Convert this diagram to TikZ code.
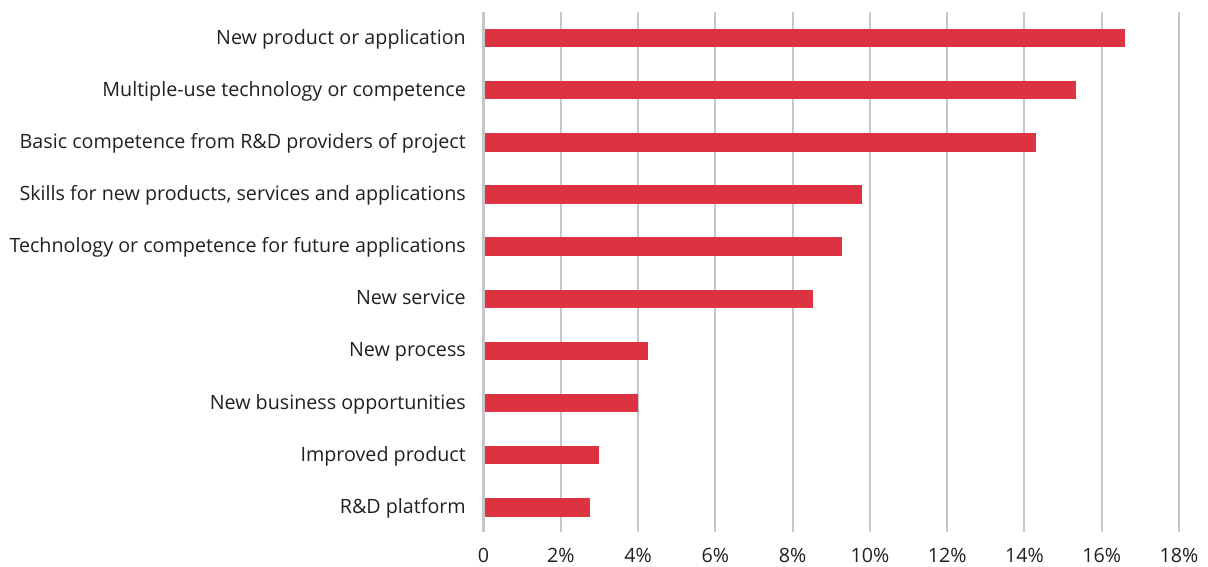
\documentclass[tikz,border=0pt]{standalone}
\usepackage{fontspec}
\setmainfont{Open Sans}
\usetikzlibrary{positioning}

\definecolor{barred}{HTML}{DC3340}
\definecolor{gridgray}{HTML}{C6C6CA}
\definecolor{labelgray}{HTML}{231F20}

\tikzset{
    lbl/.style = {anchor=base east, inner sep=0pt, text=labelgray,
                  font=\fontsize{19.7}{20}\selectfont},
    tick/.style = {anchor=base, inner sep=0pt, text=labelgray,
                   font=\fontsize{19.7}{20}\selectfont},
    bar/.style = {fill=barred},
    gridline/.style = {gridgray, line width=2pt}
}

\begin{document}
\begin{tikzpicture}[x=1pt, y=-1pt]
        \useasboundingbox (0,0) rectangle (1208,566);

        % grid and axis
        \foreach \v in {2,4,...,18}
            \draw[gridline] (483.5+\v*38.64,12) -- (483.5+\v*38.64,532);
        \draw[gridline, line width=3pt] (483.5,12) -- (483.5,532);

        % tick labels
        \node (t0) [tick] at (483.5,562) {0};
        \foreach \v in {2,4,...,18}
            \node (t\v) [tick] at (483.5+\v*38.64,562) {\v\%};

        % bars and labels
        \foreach \i/\val/\txt in {
            0/16.6/New product or application,
            1/15.33/Multiple-use technology or competence,
            2/14.31/Basic competence from R\&D providers of project,
            3/9.8/{Skills for new products, services and applications},
            4/9.29/Technology or competence for future applications,
            5/8.54/New service,
            6/4.25/New process,
            7/4.0/New business opportunities,
            8/3.0/Improved product,
            9/2.75/R\&D platform}
        {
            \fill[bar] (485,38+\i*52.16-9.2) rectangle (483.5+\val*38.64,38+\i*52.16+9.2);
            \node (l\i) [lbl] at (466,38+\i*52.16+6) {\txt};
        }
    \end{tikzpicture}
\end{document}
